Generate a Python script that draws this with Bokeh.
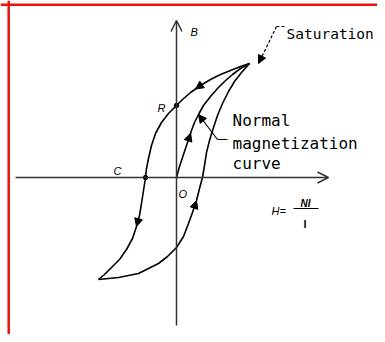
from bokeh.plotting import figure
from bokeh.models import Range1d, Arrow, NormalHead, OpenHead, Span, Label
from bokeh.embed import file_html
from bokeh.resources import INLINE

# Hysteresis loop (H, B in arbitrary units, origin O)
# descending branch: saturation -> R -> C -> negative tip
H_desc = [73, 64, 54, 44, 34, 24, 14, 6, 0, -8, -15, -21, -25, -28, -30, -31,
          -33, -35, -37, -40, -44, -50, -57, -65, -72, -78]
B_desc = [114, 111, 107, 103, 98, 92, 85, 78, 72, 64, 55, 44, 32, 19, 9, 0,
          -13, -26, -38, -49, -61, -72, -82, -90, -97, -102]
# ascending branch: negative tip -> saturation
H_asc = [-78, -68, -58, -48, -38, -28, -18, -9, 0, 7, 12, 16, 20, 23, 26, 28,
         30, 33, 37, 41, 46, 52, 58, 65, 73]
B_asc = [-102, -101, -100, -98, -96, -91, -86, -79, -70, -59, -46, -35, -23,
         -11, 0, 12, 25, 37, 50, 62, 74, 86, 96, 105, 114]
# normal magnetization curve: O -> saturation
H_norm = [0, 3, 6, 9, 12, 15, 18, 22, 27, 34, 41, 48, 56, 64, 73]
B_norm = [0, 11, 20, 29, 38, 47, 55, 63, 72, 81, 89, 96, 103, 109, 114]

R_index = 8
C_index = 15

W, H = 377, 334
p = figure(width=W, height=H, output_backend="svg", toolbar_location=None,
           x_range=Range1d(-176, 201), y_range=Range1d(-157, 177),
           min_border=0, min_border_left=0, min_border_right=0,
           min_border_top=0, min_border_bottom=0)
p.axis.visible = False
p.grid.visible = False
p.outline_line_color = None
p.background_fill_color = "white"
p.border_fill_color = "white"

# red frame (top & left)
p.add_layout(Span(location=-167.8, dimension="height", line_color="#ee1111", line_width=2.5))
p.add_layout(Span(location=172.8, dimension="width", line_color="#ee1111", line_width=2.5))

# axes with open arrowheads
axis_col = "#333333"
p.add_layout(Arrow(end=OpenHead(size=11, line_color=axis_col, line_width=1.5),
                   x_start=-161, y_start=0, x_end=152, y_end=0,
                   line_color=axis_col, line_width=1.5))
p.add_layout(Arrow(end=OpenHead(size=11, line_color=axis_col, line_width=1.5),
                   x_start=0, y_start=-148, x_end=0, y_end=157,
                   line_color=axis_col, line_width=1.5))

# curves
for xs, ys in [(H_desc, B_desc), (H_asc, B_asc), (H_norm, B_norm)]:
    p.line(xs, ys, line_color="black", line_width=1.6, line_join="round")

def curve_arrow(xs, ys, i, t):
    x0, y0 = xs[i], ys[i]
    x1, y1 = xs[i + 1], ys[i + 1]
    xe, ye = x0 + t * (x1 - x0), y0 + t * (y1 - y0)
    return Arrow(end=NormalHead(size=8, fill_color="black", line_color="black"),
                 x_start=x0, y_start=y0, x_end=xe, y_end=ye, line_alpha=0)

p.add_layout(curve_arrow(H_desc, B_desc, 5, 0.5))
p.add_layout(curve_arrow(H_desc, B_desc, 18, 1.0))
p.add_layout(curve_arrow(H_asc, B_asc, 11, 1.0))
p.add_layout(curve_arrow(H_norm, B_norm, 4, 0.7))

# R and C points
p.scatter([H_desc[R_index], H_desc[C_index]], [B_desc[R_index], B_desc[C_index]],
          size=4.5, color="black")

# leaders
p.line([108, 100], [151, 151], line_color="black", line_width=1.2, line_dash="3 2")
p.add_layout(Arrow(end=NormalHead(size=8, fill_color="black", line_color="black"),
                   x_start=100, y_start=151, x_end=82, y_end=114,
                   line_color="black", line_width=1.2, line_dash="3 2"))
p.line([51, 41], [38, 38], line_color="black", line_width=1.2)
p.add_layout(Arrow(end=NormalHead(size=8, fill_color="black", line_color="black"),
                   x_start=41, y_start=38, x_end=H_norm[7], y_end=B_norm[7],
                   line_color="black", line_width=1.2))

# labels
def lab(x, y, text, size="11px", font="Liberation Sans", style="italic"):
    p.add_layout(Label(x=x, y=y, text=text, text_font=font, text_font_size=size,
                       text_font_style=style, text_baseline="alphabetic",
                       text_color="black"))

lab(14, 146, "B")
lab(-19, 70, "R")
lab(-63, 7, "C")
lab(2, -16, "O")
lab(95, -33, "H=")
lab(124, -26, "NI", size="10px", style="bold italic")
p.line([117, 142], [-31, -31], line_color="black", line_width=1)
lab(127, -46, "l", size="11px", style="bold")

mono = "DejaVu Sans Mono"
lab(110, 144, "Saturation", size="14.5px", font=mono, style="normal")
lab(56, 57, "Normal", size="16px", font=mono, style="normal")
lab(56, 34, "magnetization", size="16px", font=mono, style="normal")
lab(56, 14, "curve", size="16px", font=mono, style="normal")

open("out.html", "w").write(file_html(p, INLINE))
